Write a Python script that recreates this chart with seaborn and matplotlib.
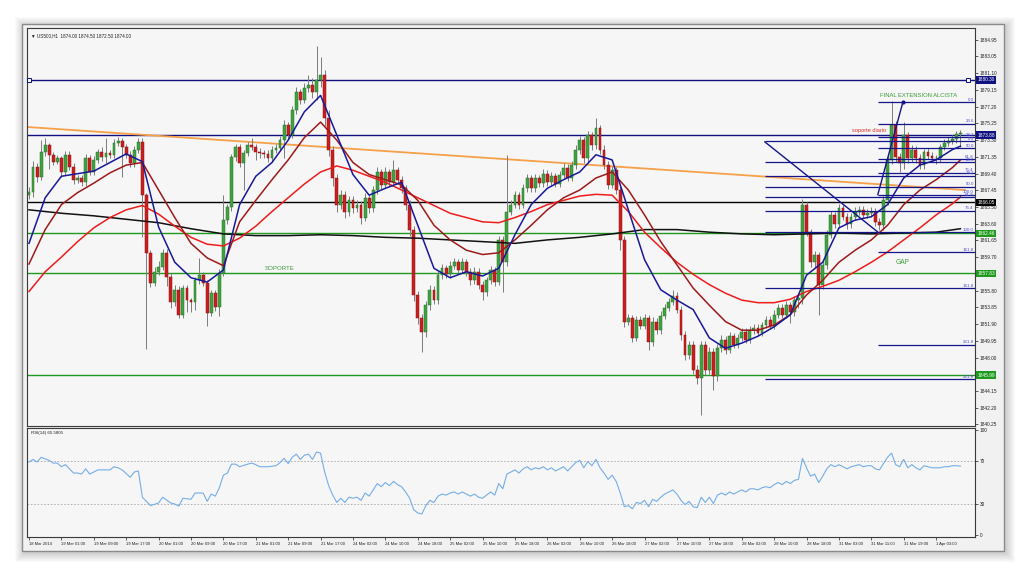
import numpy as np
import pandas as pd
import matplotlib
matplotlib.use("Agg")
import matplotlib.pyplot as plt
import matplotlib.transforms as mtransforms
from matplotlib.patches import Rectangle
import seaborn as sns

# ---------------- data (US500, H1) ----------------
first_open = 1866.9
closes = [
    1867.3, 1870.2, 1869.0, 1871.9, 1872.7, 1871.6, 1870.8, 1871.2, 1869.6, 1871.6,
    1870.2, 1868.7, 1868.9, 1868.4, 1871.2, 1869.6, 1871.0, 1871.9, 1871.3, 1871.8,
    1871.6, 1873.0, 1873.2, 1872.5, 1871.6, 1870.6, 1872.2, 1873.1, 1866.9, 1860.2,
    1856.7, 1858.0, 1858.6, 1860.2, 1857.4, 1854.5, 1855.9, 1853.0, 1856.1, 1854.7,
    1854.5, 1857.0, 1857.6, 1856.7, 1853.2, 1855.5, 1853.9, 1857.9, 1864.0, 1865.5,
    1871.3, 1872.5, 1870.6, 1871.8, 1872.7, 1872.5, 1871.9, 1871.8, 1871.7, 1871.2,
    1872.2, 1872.4, 1873.3, 1875.1, 1873.9, 1876.8, 1878.9, 1878.0, 1879.4, 1879.7,
    1878.9, 1880.3, 1880.9, 1875.9, 1872.2, 1868.9, 1865.8, 1866.9, 1865.0, 1866.3,
    1865.4, 1865.8, 1864.3, 1866.6, 1865.4, 1867.5, 1869.6, 1868.1, 1869.6, 1868.4,
    1869.8, 1868.7, 1867.7, 1865.8, 1862.9, 1855.3, 1852.6, 1851.0, 1854.1, 1855.9,
    1854.7, 1857.6, 1858.4, 1857.7, 1858.7, 1859.1, 1858.2, 1859.1, 1858.0, 1857.0,
    1858.0, 1856.5, 1855.6, 1857.0, 1858.2, 1856.8, 1861.7, 1859.1, 1865.0, 1865.8,
    1866.9, 1865.8, 1867.7, 1868.9, 1867.7, 1868.9, 1868.3, 1869.4, 1868.4, 1869.1,
    1868.2, 1869.3, 1870.1, 1868.9, 1870.4, 1872.2, 1873.3, 1871.2, 1873.9, 1872.7,
    1874.7, 1872.2, 1870.4, 1868.1, 1869.8, 1867.5, 1861.7, 1852.2, 1852.6, 1850.3,
    1852.4, 1851.7, 1852.6, 1849.8, 1852.2, 1851.2, 1852.9, 1853.8, 1854.5, 1855.2,
    1853.6, 1850.6, 1848.3, 1849.5, 1846.6, 1845.6, 1849.5, 1846.6, 1848.7, 1845.9,
    1849.1, 1850.1, 1848.9, 1850.5, 1849.5, 1850.3, 1851.0, 1850.1, 1851.2, 1851.5,
    1850.9, 1851.8, 1852.4, 1851.7, 1853.0, 1853.8, 1853.0, 1854.1, 1853.3, 1854.7,
    1855.0, 1865.8, 1862.6, 1859.1, 1859.9, 1856.5, 1858.8, 1862.3, 1864.6, 1863.5,
    1865.4, 1864.4, 1863.5, 1864.4, 1865.0, 1865.2, 1864.6, 1864.8, 1865.0, 1863.8,
    1863.4, 1866.3, 1871.0, 1875.1, 1871.3, 1870.6, 1873.9, 1871.2, 1872.2, 1871.2,
    1870.4, 1871.9, 1871.5, 1871.2, 1871.2, 1872.5, 1873.0, 1873.2, 1873.4, 1874.0, 1874.0,
]
highs = [
    1867.8, 1870.9, 1870.6, 1873.3, 1873.6, 1873.0, 1871.9, 1871.6, 1871.5, 1872.0,
    1872.0, 1870.6, 1869.3, 1869.2, 1871.7, 1871.6, 1871.5, 1872.3, 1872.5, 1873.6,
    1872.2, 1873.4, 1873.7, 1873.6, 1872.9, 1872.0, 1872.6, 1873.5, 1873.6, 1867.2,
    1860.5, 1858.6, 1859.2, 1860.7, 1860.6, 1857.8, 1856.5, 1856.3, 1856.5, 1856.5,
    1855.0, 1857.4, 1859.6, 1858.0, 1857.0, 1855.9, 1855.9, 1858.3, 1866.9, 1865.9,
    1871.7, 1872.9, 1872.8, 1872.2, 1873.1, 1873.6, 1872.8, 1872.4, 1872.2, 1872.1,
    1872.6, 1872.8, 1873.8, 1875.6, 1875.4, 1877.3, 1879.5, 1879.3, 1879.9, 1880.9,
    1880.5, 1884.2, 1883.0, 1881.4, 1876.8, 1872.6, 1869.4, 1867.5, 1867.4, 1866.8,
    1866.8, 1866.3, 1866.2, 1867.1, 1867.0, 1868.0, 1870.2, 1870.0, 1870.2, 1870.0,
    1871.0, 1870.2, 1869.1, 1868.1, 1866.3, 1863.3, 1855.8, 1853.1, 1854.6, 1856.4,
    1856.3, 1858.1, 1858.9, 1858.8, 1859.2, 1859.6, 1859.5, 1859.6, 1859.5, 1858.4,
    1858.5, 1858.4, 1856.9, 1857.4, 1858.7, 1858.6, 1862.2, 1862.1, 1871.6, 1866.3,
    1867.4, 1867.3, 1868.2, 1869.4, 1869.3, 1869.4, 1869.3, 1869.9, 1869.8, 1869.6,
    1869.5, 1869.7, 1870.6, 1870.5, 1870.9, 1872.7, 1873.8, 1873.7, 1874.4, 1874.3,
    1875.9, 1875.1, 1872.7, 1870.9, 1870.3, 1870.2, 1868.0, 1862.2, 1853.1, 1853.0,
    1852.9, 1852.8, 1853.1, 1853.0, 1852.7, 1852.6, 1853.4, 1854.3, 1855.0, 1855.9,
    1855.6, 1854.0, 1851.1, 1850.0, 1850.0, 1847.1, 1850.0, 1850.0, 1849.2, 1849.1,
    1849.6, 1850.6, 1850.5, 1851.0, 1850.9, 1850.8, 1851.5, 1851.4, 1851.7, 1851.9,
    1851.9, 1852.2, 1852.9, 1852.8, 1853.5, 1854.3, 1854.2, 1854.6, 1854.5, 1855.2,
    1855.5, 1866.5, 1866.1, 1863.0, 1860.4, 1860.3, 1859.2, 1862.8, 1865.1, 1865.0,
    1865.9, 1865.8, 1864.8, 1864.8, 1865.5, 1865.7, 1865.6, 1865.3, 1865.5, 1865.4,
    1864.2, 1866.8, 1871.5, 1877.8, 1875.5, 1871.8, 1875.4, 1874.3, 1872.7, 1872.6,
    1871.7, 1872.3, 1872.4, 1871.9, 1871.6, 1872.9, 1873.4, 1873.7, 1873.9, 1874.4, 1874.5,
]
lows = [
    1866.4, 1866.7, 1868.4, 1868.7, 1871.5, 1870.0, 1870.4, 1870.5, 1869.0, 1869.2,
    1869.8, 1868.2, 1868.3, 1868.0, 1868.0, 1869.2, 1869.3, 1870.6, 1870.9, 1870.6,
    1871.2, 1871.2, 1872.6, 1869.0, 1871.2, 1870.2, 1870.2, 1871.8, 1862.0, 1849.0,
    1856.2, 1856.3, 1857.6, 1858.2, 1856.3, 1853.8, 1854.0, 1852.6, 1852.6, 1853.3,
    1853.3, 1853.5, 1856.6, 1856.3, 1851.7, 1852.8, 1853.4, 1852.9, 1857.5, 1863.6,
    1865.1, 1870.9, 1870.2, 1867.5, 1871.4, 1872.1, 1871.0, 1871.2, 1871.2, 1870.8,
    1870.8, 1871.8, 1872.0, 1871.2, 1873.4, 1873.5, 1876.3, 1877.5, 1877.6, 1878.9,
    1878.2, 1878.0, 1879.5, 1875.0, 1871.5, 1868.0, 1864.9, 1865.3, 1864.3, 1864.5,
    1864.8, 1865.0, 1863.6, 1863.9, 1864.8, 1865.0, 1867.0, 1867.6, 1867.7, 1868.0,
    1868.0, 1868.3, 1867.2, 1865.2, 1862.2, 1854.6, 1851.9, 1848.7, 1850.4, 1853.6,
    1854.2, 1854.3, 1857.1, 1857.3, 1857.3, 1858.3, 1857.8, 1857.8, 1857.5, 1856.5,
    1856.6, 1856.0, 1854.7, 1855.2, 1856.6, 1856.3, 1856.4, 1855.6, 1858.7, 1864.6,
    1865.4, 1865.3, 1865.4, 1867.3, 1867.3, 1867.3, 1867.9, 1867.9, 1868.0, 1868.0,
    1867.8, 1867.8, 1868.9, 1868.5, 1868.5, 1870.0, 1871.7, 1870.7, 1870.8, 1872.2,
    1872.3, 1871.7, 1869.9, 1867.6, 1867.7, 1867.0, 1860.5, 1851.6, 1851.8, 1849.8,
    1849.9, 1851.3, 1851.3, 1848.9, 1849.4, 1850.8, 1850.8, 1852.5, 1853.4, 1854.1,
    1853.2, 1850.1, 1847.7, 1847.9, 1846.1, 1844.9, 1841.3, 1846.0, 1846.1, 1844.2,
    1845.3, 1848.7, 1848.4, 1848.5, 1849.1, 1849.1, 1849.9, 1849.7, 1849.7, 1850.8,
    1850.5, 1850.5, 1851.4, 1851.3, 1851.3, 1852.6, 1852.6, 1852.6, 1852.0, 1852.9,
    1853.8, 1854.3, 1862.1, 1858.6, 1858.6, 1853.0, 1856.0, 1858.3, 1861.9, 1863.1,
    1863.1, 1864.0, 1863.0, 1863.1, 1864.0, 1864.6, 1864.2, 1864.2, 1864.4, 1863.3,
    1862.9, 1862.9, 1865.8, 1870.5, 1870.8, 1869.6, 1870.0, 1870.7, 1870.8, 1870.7,
    1869.9, 1870.0, 1871.1, 1870.8, 1870.5, 1870.8, 1872.1, 1872.6, 1872.8, 1873.0, 1872.5,
]

# moving averages (every 4 bars, plus the last bar)
ma_bars = list(range(0, 229, 4)) + [230]
blue_ma = [
    1861.3, 1866.6, 1869.1, 1869.4, 1869.7, 1870.7, 1871.7, 1870.8, 1863.2, 1859.1,
    1857.3, 1856.8, 1858.2, 1865.8, 1869.1, 1870.7, 1873.3, 1876.6, 1878.5, 1873.9,
    1869.3, 1866.9, 1867.7, 1868.4, 1863.4, 1858.4, 1857.3, 1858.0, 1857.5, 1858.4,
    1862.3, 1865.8, 1867.7, 1868.7, 1869.6, 1871.6, 1871.0, 1865.2, 1859.4, 1855.9,
    1854.7, 1853.6, 1850.3, 1849.1, 1849.7, 1850.5, 1851.6, 1853.0, 1857.6, 1859.1,
    1863.1, 1864.0, 1864.4, 1865.8, 1868.9, 1870.4, 1871.0, 1872.2, 1872.6,
]
darkred_ma = [
    1858.9, 1862.9, 1865.8, 1867.2, 1868.3, 1869.5, 1870.4, 1870.7, 1867.5, 1864.3,
    1861.3, 1859.6, 1858.7, 1863.8, 1866.3, 1868.7, 1871.0, 1873.6, 1875.4, 1873.3,
    1870.7, 1869.3, 1868.7, 1868.1, 1866.3, 1863.4, 1861.7, 1860.5, 1860.0, 1860.2,
    1861.7, 1863.4, 1865.2, 1866.6, 1867.5, 1868.9, 1869.6, 1867.5, 1864.6, 1861.5,
    1858.8, 1856.1, 1854.1, 1852.2, 1851.2, 1851.2, 1851.8, 1853.0, 1855.3, 1857.0,
    1859.1, 1860.5, 1861.7, 1863.4, 1865.8, 1867.5, 1868.7, 1870.1, 1871.0,
]
red_ma = [
    1855.7, 1858.0, 1859.7, 1861.5, 1863.1, 1864.3, 1865.2, 1865.7, 1864.7, 1863.3,
    1862.0, 1861.2, 1861.0, 1861.9, 1863.3, 1865.0, 1866.6, 1868.2, 1869.6, 1870.3,
    1869.8, 1869.1, 1868.4, 1867.5, 1866.6, 1865.7, 1864.8, 1864.3, 1863.8, 1863.7,
    1864.3, 1865.0, 1865.8, 1866.3, 1866.8, 1867.0, 1866.9, 1865.0, 1862.6, 1860.8,
    1859.1, 1857.7, 1856.5, 1855.5, 1854.7, 1854.4, 1854.4, 1854.8, 1855.7, 1856.3,
    1857.0, 1858.0, 1859.1, 1860.3, 1861.7, 1863.1, 1864.6, 1865.9, 1866.7,
]
black_bars = list(range(0, 225, 8)) + [230]
black_ma = [
    1865.2, 1864.8, 1864.5, 1864.1, 1863.7, 1863.0, 1862.4, 1862.2, 1862.2, 1862.3,
    1862.2, 1862.0, 1861.9, 1861.7, 1861.5, 1861.3, 1861.7, 1862.0, 1862.4, 1862.9,
    1862.9, 1862.6, 1862.4, 1862.3, 1862.4, 1862.5, 1862.4, 1862.5, 1862.6, 1863.0,
]

# RSI(14)
rsi_bars = [0, 1, 2, 3, 5, 6, 7, 8, 9, 11, 12, 13, 14, 15, 17, 18, 20, 21, 22, 23,
            25, 26, 27, 28, 30, 32, 33, 35, 36, 37, 38, 40, 41, 43, 44, 45, 46, 47, 48, 49,
            50, 51, 52, 54, 55, 56, 57, 59] + list(range(61, 231))
rsi_vals = [69.5, 72, 69.5, 74, 71, 68.5, 68.5, 65, 67, 59, 59, 58, 63, 58, 62, 62, 62, 65, 64, 62,
            55, 60, 61, 36, 28, 30.5, 36, 30.5, 29.5, 27.5, 35, 34, 40, 40, 32, 39, 37, 45, 57, 59,
            67.5, 67.5, 65, 67.5, 68.5, 67, 65, 65,
            66, 69, 73, 68, 74, 77, 72, 76, 77, 72, 79, 78, 60, 47, 38, 31, 35, 31, 36, 35,   # 61-80
            36, 33, 40, 37, 43, 49, 46, 50, 47, 51, 48, 46, 41, 35, 24, 21, 20, 28, 33, 31,   # 81-100
            37, 39, 38, 40, 41, 39, 41, 39, 37, 39, 36, 35, 38, 41, 38, 49, 44, 58, 60, 62,   # 101-120
            59, 63, 65, 62, 64, 63, 65, 62, 64, 61, 63, 65, 61, 65, 69, 71, 64, 70, 66, 72,   # 121-140
            64, 59, 53, 57, 51, 40, 27, 28, 25, 31, 30, 33, 27, 34, 32, 36, 39, 41, 43, 39,   # 141-160
            33, 29, 32, 27, 26, 36, 31, 36, 30, 38, 40, 38, 41, 39, 41, 43, 41, 44, 44, 43,   # 161-180
            45, 46, 45, 48, 50, 48, 51, 49, 52, 53, 73, 64, 56, 58, 50, 56, 63, 67, 65, 67,   # 181-200
            65, 63, 65, 66, 67, 65, 66, 66, 63, 62, 68, 74, 78, 67, 65, 72, 64, 67, 64, 62,   # 201-220
            66, 65, 64, 64, 64, 65, 65, 66, 66, 65.6]                                          # 221-230

time_labels = ["18 Mar 2014", "19 Mar 01:00", "19 Mar 09:00", "19 Mar 17:00", "20 Mar 01:00",
               "20 Mar 09:00", "20 Mar 17:00", "21 Mar 01:00", "21 Mar 09:00", "21 Mar 17:00",
               "24 Mar 02:00", "24 Mar 10:00", "24 Mar 18:00", "25 Mar 02:00", "25 Mar 10:00",
               "25 Mar 18:00", "26 Mar 02:00", "26 Mar 10:00", "26 Mar 18:00", "27 Mar 02:00",
               "27 Mar 10:00", "27 Mar 18:00", "28 Mar 02:00", "28 Mar 10:00", "28 Mar 18:00",
               "31 Mar 03:00", "31 Mar 11:00", "31 Mar 19:00", "1 Apr 03:00"]
price_ticks = ["1884.95", "1883.05", "1881.10", "1879.15", "1877.20", "1875.25", "1873.30",
               "1871.35", "1869.40", "1867.45", "1865.50", "1863.60", "1861.65", "1859.70",
               "1855.80", "1853.85", "1851.90", "1849.95", "1848.00", "1844.15", "1842.20", "1840.25"]

levels = [1880.30, 1873.88, 1866.05, 1862.46, 1857.83, 1845.99]
level_colors = ["#101080", "#101080", "#000000", "#1f9a1f", "#1f9a1f", "#1f9a1f"]

trend_bars = [-0.5, 231.1]
trend_prices = [1874.83, 1867.5]

fib_levels = [0.0, 23.6, 38.2, 50.0, 61.8, 76.4, 100.0, 161.8, 261.8]
fib1 = dict(start=181.7, p0=1873.2, p100=1862.62, line=([181.7, 209.6], [1873.1, 1862.62]))
fib2 = dict(start=209.6, p0=1877.74, p100=1866.96, line=([209.6, 215.8], [1866.96, 1877.74]))

# ---------------- figure ----------------
W, H = 1024, 575
plt.rcParams['font.family'] = ['Liberation Sans', 'DejaVu Sans']


def box(x0, y0, x1, y1):
    return [x0 / W, 1 - y1 / H, (x1 - x0) / W, (y1 - y0) / H]


def frect(x0, y0, x1, y1, **kw):
    return Rectangle((x0 / W, 1 - y1 / H), (x1 - x0) / W, (y1 - y0) / H,
                     transform=fig.transFigure, **kw)


fig = plt.figure(figsize=(10.24, 5.75), dpi=100, facecolor='white')

# window shadow and frame
for d in range(1, 10):
    fig.add_artist(frect(22 - d + 2, 24 - d + 2, 1004 + d + 2, 551 + d + 2,
                         fc='black', ec='none', alpha=0.02, zorder=-3))
fig.add_artist(frect(22, 24, 1004, 551, fc='#f1f1f1', ec='#8a8a8a', lw=1.0, zorder=-2))

XLIM = (-0.494, 233.6)
ax = fig.add_axes(box(27, 27.5, 975, 426))
rax = fig.add_axes(box(27, 428, 975, 537))
for a in (ax, rax):
    a.set_facecolor('#f6f6f6')
    a.set_xlim(*XLIM)
    for s in a.spines.values():
        s.set_color('#3a3a3a')
        s.set_linewidth(0.8)

ax.set_ylim(1840.06, 1886.40)
rax.set_ylim(-1.9, 101.9)

df = pd.DataFrame({'close': closes, 'high': highs, 'low': lows})
df['open'] = [first_open] + closes[:-1]
df['bar'] = np.arange(len(df))
up = df['close'] >= df['open']

# level lines
for lv, c in zip(levels, level_colors):
    ax.axhline(lv, color=c, lw=1.0, zorder=2)
ax.plot([0.0, 231.9], [levels[0], levels[0]], ls='none', marker='s', ms=2.4,
        mfc='#f6f6f6', mec='#101080', mew=0.7, zorder=3)

# trendline
ax.plot(trend_bars, trend_prices, color='#f7a04a', lw=1.3, zorder=2)

# candles
ax.vlines(df['bar'], df['low'], df['high'], color='#7c7c7c', lw=0.7, zorder=3)
for sub, fc, ec in [(df[up], '#3fa33f', '#2b6f2b'), (df[~up], '#cc1e1e', '#8a1212')]:
    hgt = (sub['close'] - sub['open']).abs().clip(lower=0.08)
    ax.bar(sub['bar'], hgt, bottom=sub[['open', 'close']].min(axis=1), width=0.7,
           color=fc, edgecolor=ec, linewidth=0.35, zorder=4)

# moving averages
sns.lineplot(x=black_bars, y=black_ma, ax=ax, color='#111111', linewidth=1.1, sort=False, zorder=5)
sns.lineplot(x=ma_bars, y=red_ma, ax=ax, color='#ee1c1c', linewidth=1.1, sort=False, zorder=5)
sns.lineplot(x=ma_bars, y=darkred_ma, ax=ax, color='#9e1a1a', linewidth=1.1, sort=False, zorder=5)
sns.lineplot(x=ma_bars, y=blue_ma, ax=ax, color='#18189a', linewidth=1.1, sort=False, zorder=5)

# fibonacci sets
for fb in (fib1, fib2):
    for f in fib_levels:
        p = fb['p0'] - f / 100.0 * (fb['p0'] - fb['p100'])
        ax.hlines(p, fb['start'], XLIM[1], color='#14148c', lw=0.9, zorder=6)
        ax.text(XLIM[1] - 0.3, p + 0.05, f"{f:.1f}", ha='right', va='bottom',
                fontsize=3.2, color='#4a4ad6', zorder=7)
    ax.plot(*fb['line'], color='#14148c', lw=1.0, zorder=6)
ax.plot([fib2['line'][0][1]], [fib2['line'][1][1]], 'o', ms=2, color='#14148c', zorder=7)

# annotations
ax.text(210.1, 1878.55, "FINAL EXTENSION ALCISTA", color='#3a9a3a', fontsize=4.2,
        ha='left', va='center', zorder=8)
ax.text(203.2, 1874.37, "soporte diario", color='#e02a2a', fontsize=4.1,
        ha='left', va='center', zorder=8)
ax.text(58.3, 1858.4, "SOPORTE", color='#3a9a3a', fontsize=4.4, ha='left', va='center', zorder=8)
ax.text(214.1, 1859.13, "GAP", color='#3a9a3a', fontsize=4.8, ha='left', va='center', zorder=8)
ax.text(0.004, 0.985, "\u25bc US500,H1  1874.00 1874.50 1872.50 1874.00", transform=ax.transAxes,
        fontsize=3.3, ha='left', va='top', color='#202020')

# price axis on the right
ax.yaxis.tick_right()
ax.set_yticks([float(t) for t in price_ticks])
ax.set_yticklabels(price_ticks)
ax.tick_params(axis='y', length=2, width=0.5, pad=1.5, labelsize=3.4, colors='#202020')
ax.tick_params(axis='x', bottom=False, labelbottom=False)
ax.set_xlabel('')
ax.set_ylabel('')
btrans = mtransforms.blended_transform_factory(ax.transAxes, ax.transData)
for lv, c in zip(levels, level_colors):
    ax.text(1.0025, lv, f"{lv:.2f}", transform=btrans, ha='left', va='center', fontsize=3.4,
            color='white', clip_on=False, zorder=10,
            bbox=dict(boxstyle='square,pad=0.25', fc=c, ec='none'))

# RSI panel
rax.axhline(70, color='#a8a8a8', lw=0.6, ls=(0, (2, 2)))
rax.axhline(30, color='#a8a8a8', lw=0.6, ls=(0, (2, 2)))
sns.lineplot(x=rsi_bars, y=rsi_vals, ax=rax, color='#74aee8', linewidth=0.8, sort=False)
rax.text(0.004, 0.97, "RSI(14) 65.5805", transform=rax.transAxes, fontsize=3.2,
         ha='left', va='top', color='#202020')
rax.yaxis.tick_right()
rax.set_yticks([100, 70, 30, 0])
rax.set_yticklabels(["100", "70", "30", "0"])
rax.tick_params(axis='y', length=2, width=0.5, pad=1.5, labelsize=3.4, colors='#202020')
rax.set_xticks(list(range(0, 225, 8)))
rax.set_xticklabels(time_labels)
rax.tick_params(axis='x', length=2.2, width=0.5, pad=1.2, labelsize=3.0, colors='#202020')
for lbl in rax.get_xticklabels():
    lbl.set_horizontalalignment('left')
rax.set_xlabel('')
rax.set_ylabel('')

fig.savefig("out.png", dpi=100, facecolor='white')
